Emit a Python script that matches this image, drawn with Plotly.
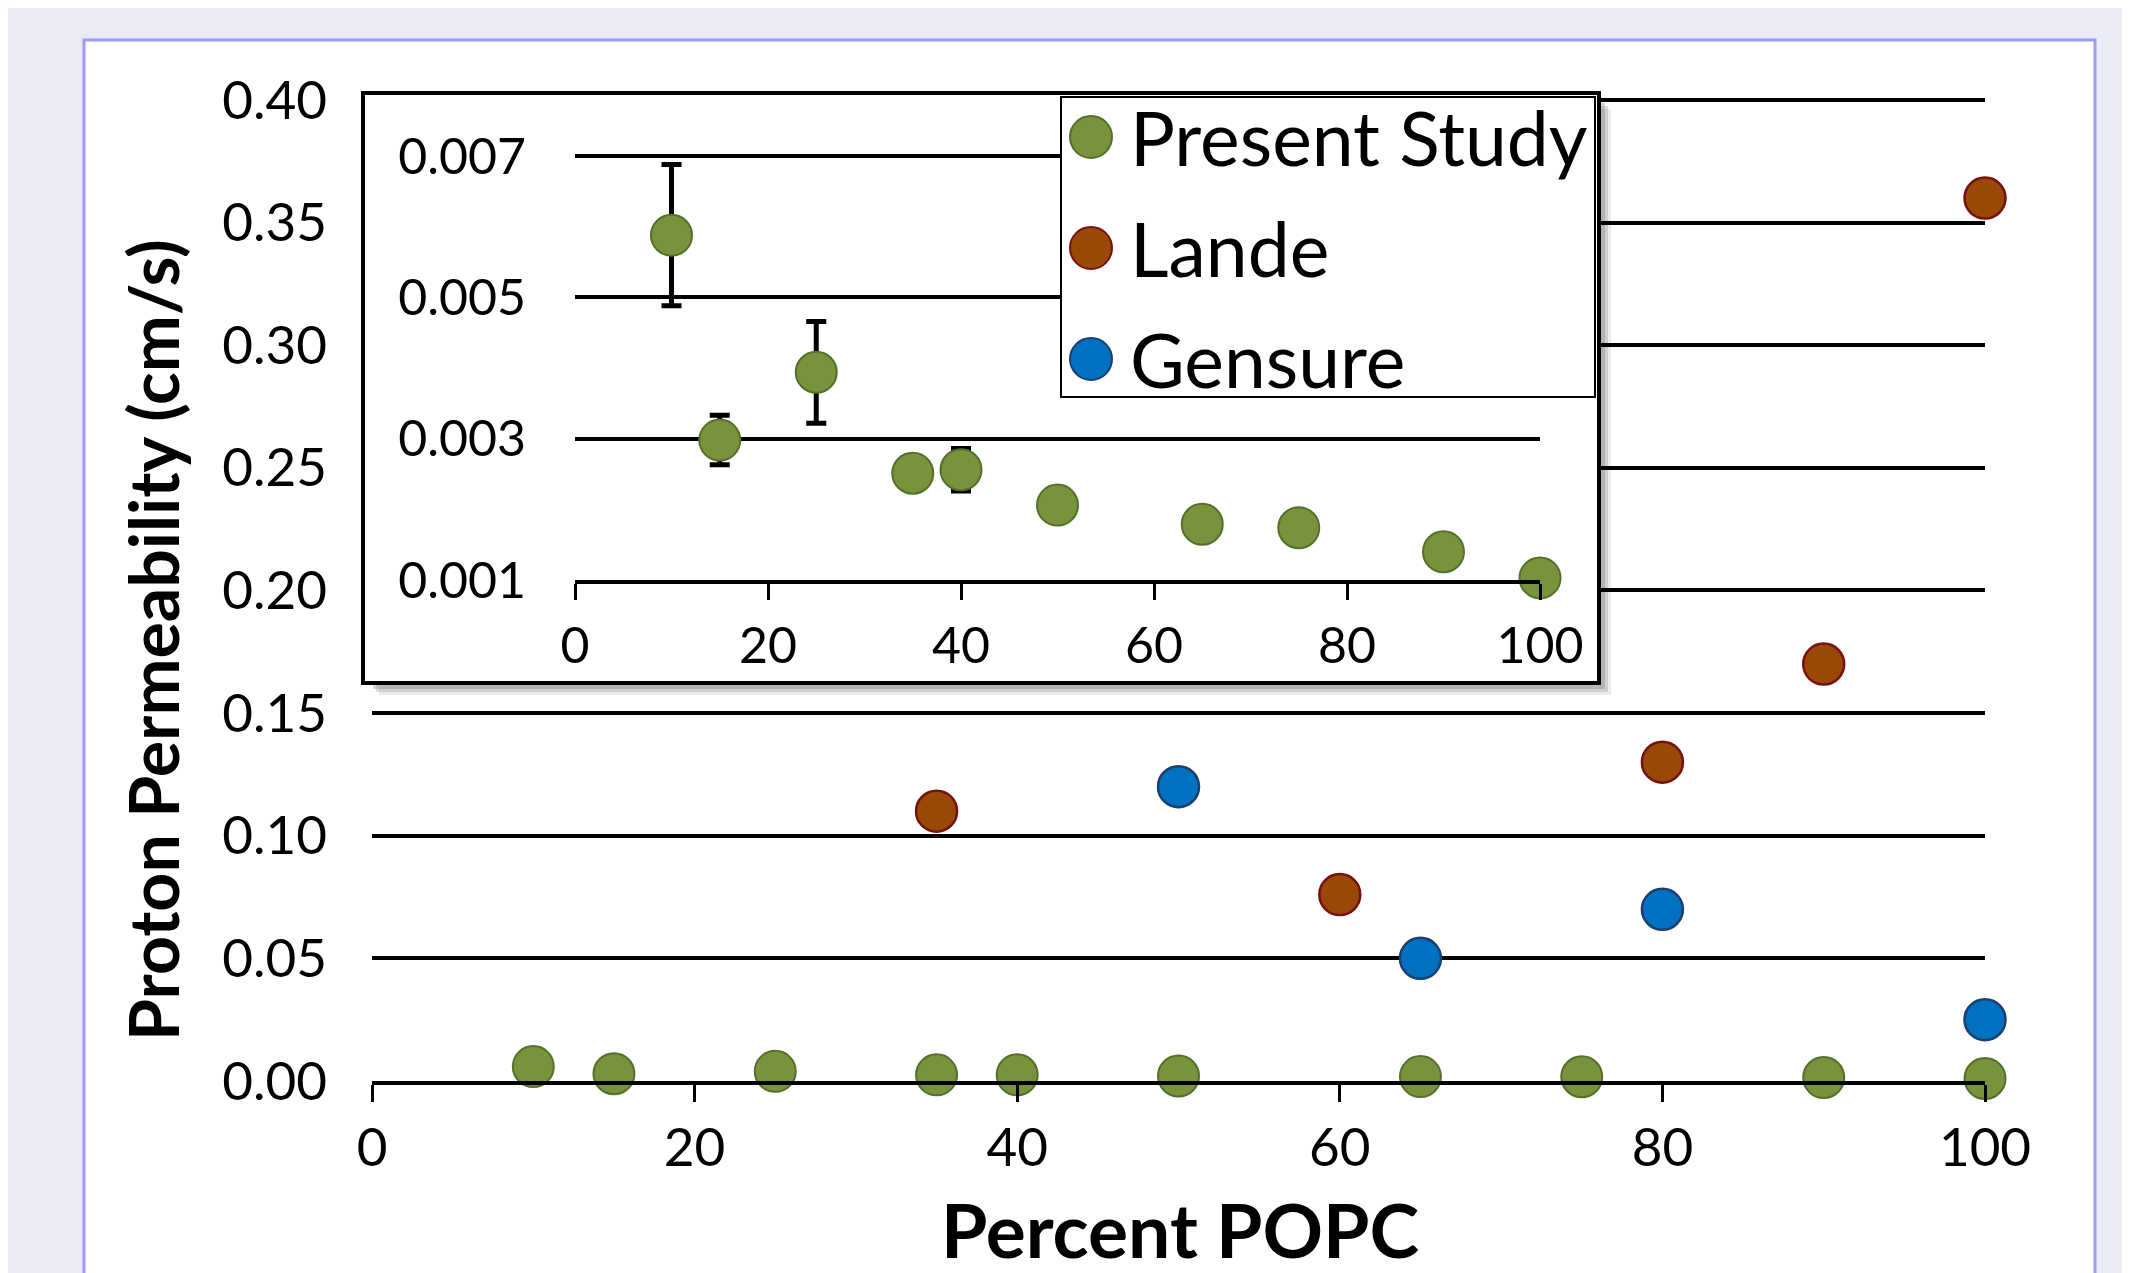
import plotly.graph_objects as go

# ---------------- data ----------------
present_x = [10, 15, 25, 35, 40, 50, 65, 75, 90, 100]
present_y = [0.00588, 0.00298, 0.00394, 0.00251, 0.00256, 0.00206, 0.00179, 0.00174, 0.00140, 0.00103]
present_err = [0.00100, 0.00035, 0.00072, 0.0, 0.00030, 0.0, 0.0, 0.0, 0.0, 0.0]

lande_x = [35, 60, 80, 90, 100]
lande_y = [0.110, 0.076, 0.130, 0.170, 0.360]

gensure_x = [50, 65, 80, 100]
gensure_y = [0.120, 0.050, 0.070, 0.025]

main_yticks = [0.00, 0.05, 0.10, 0.15, 0.20, 0.25, 0.30, 0.35, 0.40]
inset_yticks = [0.001, 0.003, 0.005, 0.007]
xticks = [0, 20, 40, 60, 80, 100]

legend_names = ["Present Study", "Lande", "Gensure"]

# ---------------- style ----------------
W, H = 2130, 1273
OFF = 8  # page body margin
FONT = "Lato"
GREEN, GREEN_LINE = "#77933C", "#55702A"
BROWN, BROWN_LINE = "#984807", "#781010"
BLUE, BLUE_LINE = "#0070C0", "#1B3F6E"
fills = [GREEN, BROWN, BLUE]
lines = [GREEN_LINE, BROWN_LINE, BLUE_LINE]


def px(x):
    return (x - OFF) / W


def py(y):
    return 1 - (y - OFF) / H


fig = go.Figure()

mk = dict(size=41)

# main plot
fig.add_trace(go.Scatter(x=present_x, y=present_y, mode="markers", xaxis="x", yaxis="y",
                         marker=dict(color=GREEN, line=dict(color=GREEN_LINE, width=2), **mk),
                         cliponaxis=False, showlegend=False))
fig.add_trace(go.Scatter(x=lande_x, y=lande_y, mode="markers", xaxis="x", yaxis="y",
                         marker=dict(color=BROWN, line=dict(color=BROWN_LINE, width=2.5), **mk),
                         cliponaxis=False, showlegend=False))
fig.add_trace(go.Scatter(x=gensure_x, y=gensure_y, mode="markers", xaxis="x", yaxis="y",
                         marker=dict(color=BLUE, line=dict(color=BLUE_LINE, width=2.5), **mk),
                         cliponaxis=False, showlegend=False))

# inset box (empty subplot giving the white framed panel)
fig.add_trace(go.Scatter(x=[], y=[], xaxis="x2", yaxis="y2", showlegend=False, hoverinfo="skip"))

# inset data
fig.add_trace(go.Scatter(x=present_x, y=present_y, mode="markers", xaxis="x3", yaxis="y3",
                         marker=dict(color=GREEN, line=dict(color=GREEN_LINE, width=2), **mk),
                         error_y=dict(type="data", array=present_err, color="black", thickness=5, width=10),
                         cliponaxis=False, showlegend=False))

tickfont_main = dict(family=FONT, size=53, color="black")
tickfont_inset = dict(family=FONT, size=50, color="black")

fig.update_layout(
    width=W, height=H, autosize=False,
    margin=dict(l=0, r=0, t=0, b=0, pad=0, autoexpand=False),
    paper_bgcolor="#EBEBF6",
    plot_bgcolor="white",
    showlegend=False,
    xaxis=dict(domain=[px(372), px(1985)], range=[0, 100], anchor="y", automargin=False,
               tickvals=xticks, ticks="outside", ticklen=17, tickwidth=3, tickcolor="black",
               showline=True, linecolor="black", linewidth=4, showgrid=False, zeroline=False,
               tickfont=tickfont_main, ticklabelstandoff=0),
    yaxis=dict(domain=[py(1081), py(97.5)], range=[0, 0.401], anchor="x", automargin=False,
               tickvals=main_yticks, tickformat=".2f", ticks="", showline=False,
               showgrid=True, gridcolor="black", gridwidth=3.5, zeroline=False,
               tickfont=tickfont_main, ticklabelstandoff=44),
    xaxis2=dict(domain=[px(365), px(1597)], range=[0, 1], anchor="y2", automargin=False,
                showline=True, mirror=True, linecolor="black", linewidth=4,
                showgrid=False, zeroline=False, showticklabels=False, ticks=""),
    yaxis2=dict(domain=[py(681), py(95)], range=[0, 1], anchor="x2", automargin=False,
                showline=True, mirror=True, linecolor="black", linewidth=4,
                showgrid=False, zeroline=False, showticklabels=False, ticks=""),
    xaxis3=dict(domain=[px(575), px(1540)], range=[0, 100], anchor="y3", automargin=False,
                tickvals=xticks, ticks="outside", ticklen=16, tickwidth=3, tickcolor="black",
                showline=True, linecolor="black", linewidth=3.5, showgrid=False, zeroline=False,
                tickfont=tickfont_inset, ticklabelstandoff=3),
    yaxis3=dict(domain=[py(580), py(149)], range=[0.001, 0.0071], anchor="x3", automargin=False,
                tickvals=inset_yticks, tickformat=".3f", ticks="", showline=False,
                showgrid=True, gridcolor="black", gridwidth=3.5, zeroline=False,
                tickfont=tickfont_inset, ticklabelstandoff=48),
)

shapes = []
# outer white panel
shapes.append(dict(type="rect", xref="paper", yref="paper", layer="below",
                   x0=px(84), x1=px(2095), y0=-0.05, y1=py(40),
                   fillcolor="white", line=dict(color="#9C9CF4", width=3)))
# inset drop shadow
for off, op in [(14, 0.12), (11, 0.18), (8, 0.25)]:
    shapes.append(dict(type="rect", xref="paper", yref="paper", layer="below",
                       x0=px(365 + off), x1=px(1597 + off), y0=py(681 + off), y1=py(95 + off),
                       fillcolor=f"rgba(90,90,90,{op})", line=dict(width=0)))
# legend box
shapes.append(dict(type="rect", xref="paper", yref="paper", layer="above",
                   x0=px(1061), x1=px(1595), y0=py(397), y1=py(97),
                   fillcolor="white", line=dict(color="black", width=2)))
leg_y = [137, 248, 359]
r = 21
for yc, fc, lc in zip(leg_y, fills, lines):
    shapes.append(dict(type="circle", xref="paper", yref="paper", layer="above",
                       x0=px(1091 - r), x1=px(1091 + r), y0=py(yc + r), y1=py(yc - r),
                       fillcolor=fc, line=dict(color=lc, width=2)))
fig.update_layout(shapes=shapes)

annotations = []
for yc, name in zip(leg_y, legend_names):
    annotations.append(dict(xref="paper", yref="paper", x=px(1128), y=py(yc),
                            xanchor="left", yanchor="middle", showarrow=False, text=name,
                            font=dict(family=FONT, size=75, color="black")))
annotations.append(dict(xref="paper", yref="paper", x=px(1180), y=py(1229),
                        xanchor="center", yanchor="middle", showarrow=False,
                        text="<b>Percent POPC</b>",
                        font=dict(family=FONT, size=75, color="black")))
annotations.append(dict(xref="paper", yref="paper", x=px(152), y=py(640),
                        xanchor="center", yanchor="middle", showarrow=False, textangle=-90,
                        text="<b>Proton Permeability (cm/s)</b>",
                        font=dict(family=FONT, size=68, color="black")))
fig.update_layout(annotations=annotations)

fig.write_html("out.html")
